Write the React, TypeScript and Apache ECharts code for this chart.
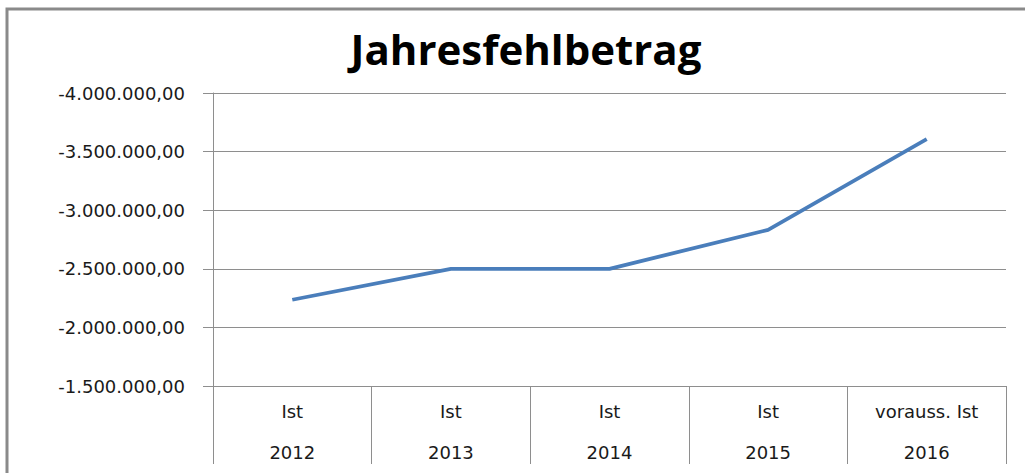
import React, { useEffect, useRef } from "react";
import * as echarts from "echarts";

const chartTitle = "Jahresfehlbetrag";
const statusLabels = ["Ist", "Ist", "Ist", "Ist", "vorauss. Ist"];
const years = ["2012", "2013", "2014", "2015", "2016"];
const values = [-2236000, -2500000, -2500000, -2832000, -3607000];
const yMin = -4000000;
const yMax = -1500000;
const yStep = 500000;

function formatDE(v: number): string {
  const neg = v < 0;
  const s = Math.abs(v).toFixed(2);
  const [i, d] = s.split(".");
  const ii = i.replace(/\B(?=(\d{3})+(?!\d))/g, ".");
  return (neg ? "-" : "") + ii + "," + d;
}

export default function App() {
  const ref = useRef<HTMLDivElement>(null);
  useEffect(() => {
    if (!ref.current) return;
    const chart = echarts.init(ref.current, undefined, { renderer: "svg" });
    const categories = statusLabels.map((s, i) => s + "\n" + years[i]);
    const gray = "#8e8e8e";
    chart.setOption({
      animation: false,
      backgroundColor: "#ffffff",
      title: {
        text: chartTitle,
        left: 521,
        top: 22,
        textAlign: "center",
        textStyle: {
          fontFamily: "Open Sans",
          fontWeight: "bold",
          fontSize: 42,
          color: "#000000",
        },
      },
      graphic: [
        {
          type: "polyline",
          shape: { points: [[7, 480], [7, 9], [1025, 9]] },
          style: { fill: "none", stroke: "#8a8a8a", lineWidth: 3 },
          silent: true,
        },
      ],
      grid: { left: 213, right: 19, top: 93, bottom: 82, containLabel: false },
      xAxis: {
        type: "category",
        data: categories,
        boundaryGap: true,
        axisLine: { onZero: false, lineStyle: { color: gray, width: 1 } },
        axisTick: { show: true, length: 78, alignWithLabel: false, lineStyle: { color: gray, width: 1 } },
        axisLabel: {
          fontFamily: "DejaVu Sans",
          fontSize: 18,
          color: "#1a1a1a",
          lineHeight: 41,
          margin: 5,
          interval: 0,
        },
        splitLine: { show: false },
      },
      yAxis: {
        type: "value",
        inverse: true,
        min: yMin,
        max: yMax,
        interval: yStep,
        axisLine: { show: true, lineStyle: { color: gray, width: 1 } },
        axisTick: { show: true, length: 10, lineStyle: { color: gray, width: 1 } },
        axisLabel: {
          fontFamily: "DejaVu Sans",
          fontSize: 18,
          color: "#1a1a1a",
          margin: 28,
          formatter: (v: number) => formatDE(v),
        },
        splitLine: { show: true, lineStyle: { color: gray, width: 1 } },
      },
      series: [
        {
          type: "line",
          data: values,
          symbol: "none",
          lineStyle: { color: "#4a7ebb", width: 3.8 },
          itemStyle: { color: "#4a7ebb" },
        },
      ],
    });
    return () => chart.dispose();
  }, []);
  return (
    <div
      ref={ref}
      style={{ position: "fixed", left: 0, top: 0, width: 1025, height: 473 }}
    />
  );
}
